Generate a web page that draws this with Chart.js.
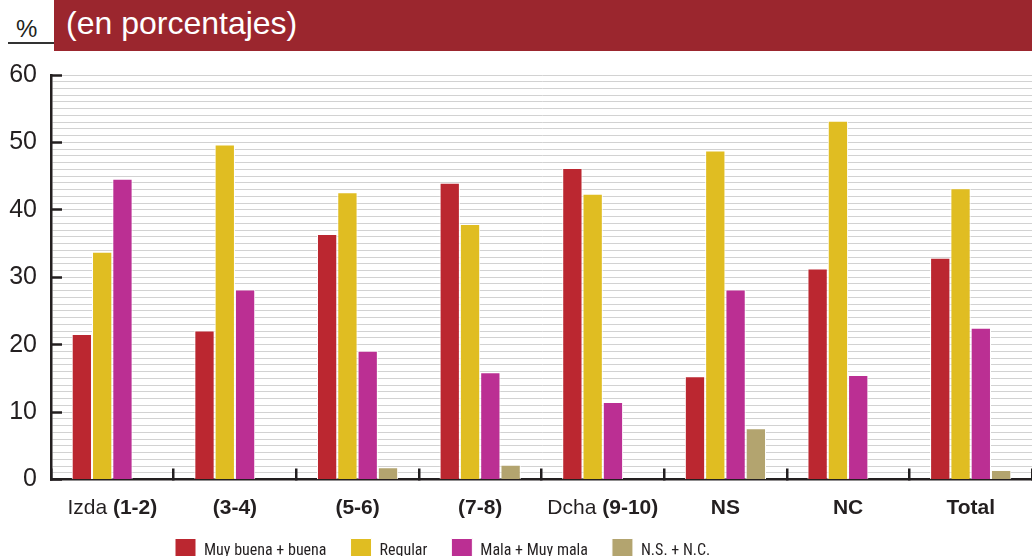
<!DOCTYPE html>
<html lang="es">
<head>
<meta charset="utf-8">
<title>Valoración (en porcentajes)</title>
<script src="https://cdn.jsdelivr.net/npm/chart.js@4.4.0/dist/chart.umd.min.js"></script>
<style>
    html, body { margin: 0; padding: 0; background: #fff; }
    body {
        width: 1032px; height: 556px; position: relative; overflow: hidden;
        font-family: 'Liberation Sans', Arial, sans-serif; color: #231f20;
    }
    #cabecera {
        position: absolute; left: 54px; top: 0; width: 978px; height: 51px;
        background: #9b262e; color: #fff;
    }
    #cabecera span {
        position: absolute; left: 12px; top: 5px; font-size: 32px; line-height: 36px; white-space: nowrap;
    }
    #pct { position: absolute; left: 16px; top: 15px; font-size: 24px; line-height: 28px; }
    #raya { position: absolute; left: 8px; top: 42px; width: 46px; height: 2px; background: #333; }
    #marco { position: absolute; left: 0; top: 0; width: 1032px; height: 580px; }
</style>
</head>
<body>
<div id="cabecera"><span>(en porcentajes)</span></div>
<div id="pct">%</div>
<div id="raya"></div>
<div id="marco"><canvas id="grafico" width="1032" height="580"></canvas></div>

<script>
// Datos
const parteNormal = ['Izda ', '', '', '', 'Dcha ', '', '', ''];
const parteNegrita = ['(1-2)', '(3-4)', '(5-6)', '(7-8)', '(9-10)', 'NS', 'NC', 'Total'];
const categorias = parteNormal.map((n, i) => n + parteNegrita[i]);

const muyBuena = [21.6, 22.1, 36.4, 44.0, 46.2, 15.3, 31.3, 32.9];
const regular  = [33.8, 49.7, 42.6, 37.9, 42.4, 48.8, 53.2, 43.2];
const mala     = [44.6, 28.2, 19.1, 15.9, 11.5, 28.2, 15.5, 22.5];
const nsnc     = [0, 0, 1.8, 2.2, 0, 7.6, 0, 1.4];

const ticksY = [0, 10, 20, 30, 40, 50, 60];

const fuente = "'Liberation Sans', Arial, sans-serif";
const fuenteEstrecha = "'Liberation Sans Narrow', 'Arial Narrow', 'Roboto Condensed', 'Liberation Sans', sans-serif";
const tinta = '#231f20';

Chart.defaults.font.family = fuente;
Chart.defaults.color = tinta;

// Etiquetas del eje X con parte normal y parte en negrita
const etiquetasX = {
    id: 'etiquetasX',
    afterDraw(chart) {
        const { ctx, scales: { x } } = chart;
        ctx.save();
        ctx.fillStyle = tinta;
        ctx.textBaseline = 'alphabetic';
        ctx.textAlign = 'left';
        parteNegrita.forEach((neg, i) => {
            const nor = parteNormal[i];
            ctx.font = `21px ${fuente}`;
            const wN = ctx.measureText(nor).width;
            ctx.font = `bold 21px ${fuente}`;
            const wB = ctx.measureText(neg).width;
            const px = x.getPixelForValue(i) - (wN + wB) / 2;
            const py = x.top + 34.5;
            ctx.font = `21px ${fuente}`;
            ctx.fillText(nor, px, py);
            ctx.font = `bold 21px ${fuente}`;
            ctx.fillText(neg, px + wN, py);
        });
        ctx.restore();
    }
};

// La leyenda del original no esta centrada: la corro a la izquierda y un poco abajo
const moverLeyenda = {
    id: 'moverLeyenda',
    afterLayout(chart) {
        const lg = chart.legend;
        if (!lg) return;
        lg.left += 151;
        lg.right += 151;
        lg.top += 2;
        lg.bottom += 2;
    }
};

function serie(label, data, color) {
    return {
        label, data,
        backgroundColor: color,
        borderColor: '#ffffff',
        borderWidth: 1,
        categoryPercentage: 0.662,
        barPercentage: 1.0
    };
}

new Chart(document.getElementById('grafico'), {
    type: 'bar',
    data: {
        labels: categorias,
        datasets: [
            serie('Muy buena + buena', muyBuena, '#bb2730'),
            serie('Regular', regular, '#e0bd22'),
            serie('Mala + Muy mala', mala, '#bb2f93'),
            serie('N.S. + N.C.', nsnc, '#b3a46f')
        ]
    },
    options: {
        responsive: false,
        animation: false,
        layout: { padding: { top: 75, left: 0, right: 0, bottom: 9.5 } },
        plugins: {
            title: { display: false },
            tooltip: { enabled: false },
            legend: {
                position: 'bottom',
                align: 'start',
                labels: {
                    boxWidth: 21,
                    boxHeight: 24,
                    padding: 24,
                    color: tinta,
                    font: { family: fuenteEstrecha, size: 16 }
                }
            }
        },
        scales: {
            x: {
                afterFit: (s) => { s.height = 33; },
                border: { color: tinta, width: 2.5 },
                grid: {
                    z: -1,
                    offset: true,
                    drawOnChartArea: false,
                    color: tinta,
                    lineWidth: 2.5,
                    tickLength: -11
                },
                ticks: { display: false }
            },
            y: {
                min: 0,
                max: 60,
                afterFit: (s) => { s.width = 51; },
                border: { color: tinta, width: 2.5 },
                grid: {
                    // por debajo de las marcas del eje X
                    z: -2,
                    color: (c) => (c.tick && c.tick.value === 0) ? 'rgba(0,0,0,0)' : '#d2d2d2',
                    lineWidth: 1,
                    tickLength: -11,
                    tickWidth: 2.5,
                    tickColor: (c) => (c.tick && ticksY.includes(c.tick.value)) ? tinta : 'rgba(0,0,0,0)'
                },
                ticks: {
                    stepSize: 1,
                    autoSkip: false,
                    maxTicksLimit: 100,
                    padding: 25,
                    color: tinta,
                    font: { size: 25 },
                    callback: (v) => ticksY.includes(v) ? String(v) : ''
                }
            }
        }
    },
    plugins: [etiquetasX, moverLeyenda]
});
</script>
</body>
</html>
